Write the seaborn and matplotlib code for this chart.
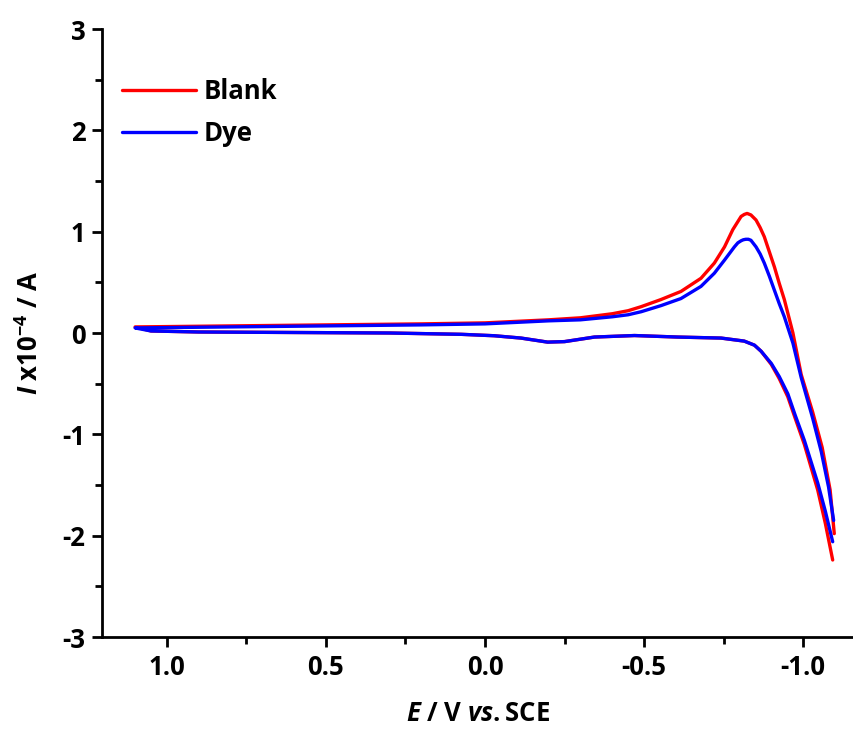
import matplotlib
matplotlib.use("Agg")
import matplotlib.pyplot as plt
import seaborn as sns
import pandas as pd
from matplotlib.ticker import MultipleLocator

# ---- data ----
# Blank (red): lower branch (from the negative vertex back to +1.1 V), then upper branch
blank_E_low = [-1.093, -1.070, -1.046, -1.004, -0.975, -0.952, -0.925, -0.900, -0.868,
               -0.847, -0.815, -0.742, -0.606, -0.470, -0.344, -0.250, -0.197, -0.113,
               -0.029, 0.075, 0.30, 0.60, 0.90, 1.05, 1.10]
blank_I_low = [-2.24, -1.88, -1.55, -1.10, -0.84, -0.63, -0.45, -0.31, -0.18,
               -0.12, -0.08, -0.05, -0.04, -0.025, -0.04, -0.085, -0.09, -0.05,
               -0.027, -0.013, 0.0, 0.005, 0.01, 0.02, 0.06]
blank_E_up = [1.10, 0.80, 0.50, 0.20, 0.00, -0.20, -0.30, -0.40, -0.45, -0.491,
              -0.553, -0.616, -0.679, -0.721, -0.753, -0.779, -0.795, -0.805, -0.815,
              -0.824, -0.836, -0.852, -0.865, -0.878, -0.894, -0.910, -0.925,
              -0.941, -0.968, -0.994, -1.030, -1.060, -1.085, -1.098]
blank_I_up = [0.06, 0.07, 0.08, 0.09, 0.10, 0.13, 0.15, 0.19, 0.22, 0.26,
              0.33, 0.41, 0.54, 0.69, 0.85, 1.02, 1.10, 1.15, 1.17,
              1.18, 1.165, 1.115, 1.04, 0.95, 0.80, 0.65, 0.49,
              0.33, 0.0, -0.41, -0.78, -1.13, -1.55, -1.98]

# Dye (blue)
dye_E_low = [-1.093, -1.070, -1.046, -1.004, -0.975, -0.952, -0.925, -0.900, -0.868,
             -0.847, -0.815, -0.742, -0.606, -0.470, -0.344, -0.250, -0.197, -0.113,
             -0.029, 0.075, 0.30, 0.60, 0.90, 1.05, 1.10]
dye_I_low = [-2.06, -1.76, -1.48, -1.06, -0.81, -0.60, -0.43, -0.30, -0.18,
             -0.12, -0.08, -0.05, -0.04, -0.025, -0.04, -0.085, -0.09, -0.05,
             -0.027, -0.013, 0.0, 0.005, 0.01, 0.02, 0.05]
dye_E_up = [1.10, 0.80, 0.50, 0.20, 0.00, -0.20, -0.30, -0.40, -0.45, -0.491,
            -0.553, -0.616, -0.679, -0.721, -0.753, -0.784, -0.795, -0.805, -0.812,
            -0.820, -0.828, -0.836, -0.852, -0.865, -0.878, -0.894, -0.910, -0.925,
            -0.941, -0.968, -0.994, -1.030, -1.057, -1.080, -1.096]
dye_I_up = [0.05, 0.06, 0.07, 0.08, 0.09, 0.12, 0.13, 0.16, 0.18, 0.21,
            0.27, 0.34, 0.46, 0.59, 0.72, 0.85, 0.89, 0.91, 0.92,
            0.925, 0.925, 0.915, 0.85, 0.78, 0.69, 0.56, 0.42, 0.29,
            0.16, -0.10, -0.44, -0.84, -1.17, -1.52, -1.85]

series_names = ["Blank", "Dye"]
series_colors = ["#ff0000", "#0000ff"]
x_ticks = [1.0, 0.5, 0.0, -0.5, -1.0]
y_ticks = [-3, -2, -1, 0, 1, 2, 3]

rows = []
for name, El, Il, Eu, Iu in [("Blank", blank_E_low, blank_I_low, blank_E_up, blank_I_up),
                             ("Dye", dye_E_low, dye_I_low, dye_E_up, dye_I_up)]:
    E = El + Eu
    I = Il + Iu
    for k, (e, i) in enumerate(zip(E, I)):
        rows.append({"E": e, "I": i, "sample": name, "order": k})
df = pd.DataFrame(rows)

# ---- style ----
sns.set_style("ticks")
FAM = "Open Sans"
plt.rcParams["font.family"] = [FAM, "DejaVu Sans"]
plt.rcParams["font.weight"] = "bold"
plt.rcParams["text.color"] = "black"
plt.rcParams["axes.labelcolor"] = "black"
plt.rcParams["xtick.color"] = "black"
plt.rcParams["ytick.color"] = "black"
plt.rcParams["mathtext.fontset"] = "custom"
plt.rcParams["mathtext.rm"] = f"{FAM}:bold"
plt.rcParams["mathtext.bf"] = f"{FAM}:bold"
plt.rcParams["mathtext.it"] = f"{FAM}:bold:italic"

fig = plt.figure(figsize=(8.54, 7.30), dpi=100)
ax = fig.add_axes([102 / 854, 93 / 730, (854 - 102) / 854, (637 - 29) / 730])

sns.lineplot(data=df, x="E", y="I", hue="sample", hue_order=series_names,
             palette=dict(zip(series_names, series_colors)), sort=False,
             estimator=None, units="sample", linewidth=2.4, ax=ax, legend=True)

ax.set_xlim(1.204, -1.160)
ax.set_ylim(-3, 3)
ax.set_xticks(x_ticks)
ax.set_xticklabels([f"{v:.1f}" for v in x_ticks])
ax.set_yticks(y_ticks)
ax.set_yticklabels([str(v) for v in y_ticks])
ax.xaxis.set_minor_locator(MultipleLocator(0.25))
ax.yaxis.set_minor_locator(MultipleLocator(0.5))

for side in ["top", "right"]:
    ax.spines[side].set_visible(False)
for side in ["left", "bottom"]:
    ax.spines[side].set_linewidth(2.0)
    ax.spines[side].set_color("black")

ax.tick_params(axis="both", which="major", direction="out", length=7, width=2,
               labelsize=18.5, pad=5, colors="black")
ax.tick_params(axis="both", which="minor", direction="out", length=5, width=2,
               colors="black")
for lab in ax.get_xticklabels() + ax.get_yticklabels():
    lab.set_fontweight("bold")

ax.set_xlabel(r"$\mathit{E}$ / V $\mathit{vs.}$SCE", fontsize=18.5, fontweight="bold", labelpad=14)
ax.set_ylabel(r"$\mathit{I}$ x10$^{\mathrm{-4}}$ / A", fontsize=18.5, fontweight="bold", labelpad=13)

leg = ax.legend(loc="upper left", bbox_to_anchor=(-0.015, 0.97), frameon=False,
                fontsize=18.5, handlelength=2.9, handletextpad=0.3, labelspacing=0.6,
                borderaxespad=0.8)
for line in leg.get_lines():
    line.set_linewidth(2.4)
for t in leg.get_texts():
    t.set_fontweight("bold")

fig.savefig("out.png", dpi=100)
